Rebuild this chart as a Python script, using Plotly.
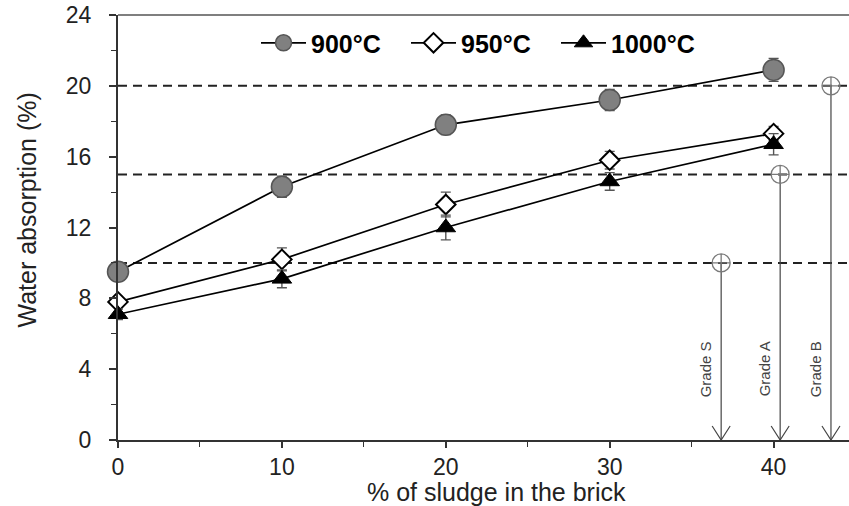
import plotly.graph_objects as go

# Sludge content in the brick (%)
sludge = [0, 10, 20, 30, 40]

# Water absorption (%) by firing temperature, with error bar half-widths
wa_900 = [9.5, 14.3, 17.8, 19.2, 20.9]
err_900 = [0.45, 0.6, 0.55, 0.6, 0.65]
wa_950 = [7.8, 10.2, 13.3, 15.8, 17.3]
err_950 = [0.3, 0.65, 0.7, 0.5, 0.4]
wa_1000 = [7.1, 9.1, 12.0, 14.6, 16.7]
err_1000 = [0.3, 0.5, 0.7, 0.5, 0.6]

# Standard limits for brick grades (max water absorption, %) and where their arrows sit
grade_names = ["Grade S", "Grade A", "Grade B"]
grade_limits = [10, 15, 20]
grade_x = [36.8, 40.4, 43.5]

FONT = "Liberation Sans, Arial, sans-serif"

fig = go.Figure()

series = [
    ("900°C", wa_900, err_900, dict(symbol="circle", size=21, color="#808080",
                                    line=dict(color="#555555", width=1.5))),
    ("950°C", wa_950, err_950, dict(symbol="diamond", size=15, color="white",
                                    line=dict(color="black", width=2))),
    ("1000°C", wa_1000, err_1000, dict(symbol="triangle-up", size=17, color="black",
                                       line=dict(color="black", width=1))),
]

for name, ys, es, mk in series:
    fig.add_trace(go.Scatter(
        x=sludge, y=ys, name=name, mode="lines+markers", cliponaxis=False,
        line=dict(color="black", width=1.7),
        marker=mk,
        error_y=dict(type="data", array=es, visible=True, color="#555555",
                     thickness=1.4, width=5),
    ))

# Grade limit arrows: open circle at the limit, line down to zero
for gx, lim in zip(grade_x, grade_limits):
    fig.add_trace(go.Scatter(
        x=[gx, gx], y=[lim, 0], mode="lines", showlegend=False, hoverinfo="skip",
        line=dict(color="#444444", width=1.2),
    ))
fig.add_trace(go.Scatter(
    x=grade_x, y=grade_limits, mode="markers", showlegend=False, hoverinfo="skip",
    cliponaxis=False,
    marker=dict(symbol="circle-cross-open", size=18, color="#7a7a7a",
                line=dict(width=1.3)),
))

shapes = []
# Horizontal dashed limit lines
for lim in grade_limits:
    shapes.append(dict(type="line", xref="paper", x0=0, x1=1, yref="y", y0=lim, y1=lim,
                       line=dict(color="#222222", width=2, dash="9px,6px"), layer="below"))
# Open arrowheads at the bottom of each grade line
for gx in grade_x:
    shapes.append(dict(type="path", xref="x", yref="y",
                       xsizemode="pixel", ysizemode="pixel", xanchor=gx, yanchor=0,
                       path="M-9,14 L0,0 L9,14",
                       line=dict(color="#444444", width=1.2)))
# Top frame line
shapes.append(dict(type="line", xref="paper", x0=0, x1=1, yref="paper", y0=1, y1=1,
                   line=dict(color="#555555", width=1.5)))

annotations = []
for gx, name in zip(grade_x, grade_names):
    annotations.append(dict(x=gx, y=4, xref="x", yref="y", text=name, showarrow=False,
                            textangle=-90, xshift=-16,
                            font=dict(family=FONT, size=15, color="#444444")))
annotations.append(dict(xref="paper", yref="paper", x=0, y=0.54, xshift=-91,
                        xanchor="center", yanchor="middle",
                        text="Water absorption (%)", showarrow=False, textangle=-90,
                        font=dict(family=FONT, size=25, color="#222222")))
annotations.append(dict(xref="paper", yref="paper", x=0.518, y=0, yshift=-52,
                        xanchor="center", yanchor="middle",
                        text="% of sludge in the brick", showarrow=False,
                        font=dict(family=FONT, size=25, color="#222222")))

fig.update_layout(
    width=849, height=506,
    margin=dict(l=118, r=0, t=15, b=66),
    paper_bgcolor="white", plot_bgcolor="white",
    font=dict(family=FONT, color="#222222"),
    shapes=shapes, annotations=annotations,
    legend=dict(orientation="h", x=0.1888, y=0.934, xanchor="left", yanchor="middle",
                font=dict(family=FONT, size=25, color="black", weight="bold"),
                bgcolor="rgba(0,0,0,0)", itemwidth=45, entrywidth=90,
                entrywidthmode="pixels", tracegroupgap=0),
    xaxis=dict(range=[0, 44.6], tick0=0, dtick=10, ticks="outside", ticklen=6,
               tickwidth=1.5, tickcolor="#333333", showline=True, linecolor="#333333",
               linewidth=1.5, showgrid=False, zeroline=False,
               tickfont=dict(family=FONT, size=23, color="#222222"),
               minor=dict(dtick=5, ticks="outside", ticklen=5, tickwidth=1.3,
                          tickcolor="#333333", showgrid=False)),
    yaxis=dict(range=[0, 24], tick0=0, dtick=4, ticks="outside", ticklen=7,
               tickwidth=1.5, tickcolor="#333333", showline=True, linecolor="#333333",
               linewidth=2, showgrid=False, zeroline=False, ticklabelstandoff=13,
               tickfont=dict(family=FONT, size=23, color="#222222"),
               minor=dict(dtick=2, ticks="outside", ticklen=5, tickwidth=1.3,
                          tickcolor="#333333", showgrid=False)),
)

fig.write_html("out.html")
